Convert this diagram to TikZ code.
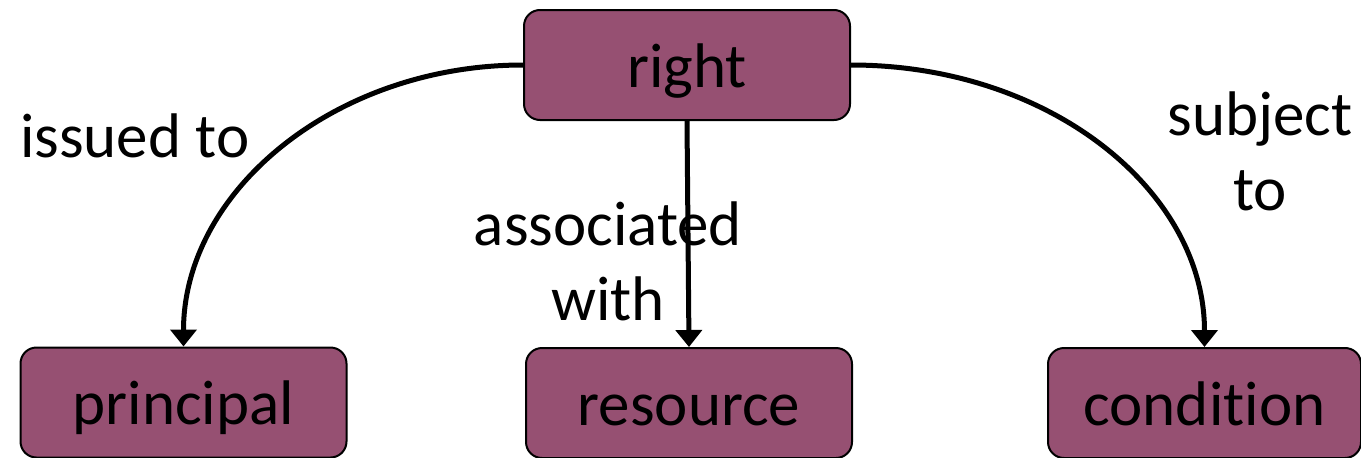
\documentclass[tikz,border=0pt]{standalone}
\usepackage{fontspec}
\setmainfont{Carlito}[Ligatures={CommonOff,ContextualOff}]
\usetikzlibrary{arrows.meta}
\definecolor{boxfill}{RGB}{150,80,114}
\tikzset{
  box/.style={draw=black, line width=2pt, fill=boxfill, rounded corners=16pt,
    minimum width=326pt, minimum height=110pt, inner sep=0pt,
    text height=44pt, text depth=0pt, font=\fontsize{63}{75}\selectfont},
  lbl/.style={inner sep=0pt, font=\fontsize{63}{75}\selectfont},
  conn/.style={line width=5pt, -{Triangle[width=26pt,length=17pt]}}
}
\begin{document}
\begin{tikzpicture}[x=1pt,y=-1pt]
\useasboundingbox (0,0) rectangle (1361,458);
\node[box] (right) at (687,65) {right};
\node[box] (principal) at (183.5,402.5) {principal};
\node[box] (resource) at (689,403) {resource};
\node[box, minimum width=313pt] (condition) at (1204.5,403) {condition};
\draw[conn] (right.west) .. controls +(-187,0) and +(0,-156) .. (principal.north);
\draw[conn] (right.south) -- (resource.north);
\draw[conn] (right.east) .. controls +(199,0) and +(0,-156) .. (condition.north);
\node[lbl, anchor=base west] (l1) at (20,157) {issued to};
\node[lbl, anchor=base] (l2a) at (608,245) {associated};
\node[lbl, anchor=base] (l2b) at (608,320) {with};
\node[lbl, anchor=base] (l3a) at (1260,135) {subject};
\node[lbl, anchor=base] (l3b) at (1260,210) {to};
\end{tikzpicture}
\end{document}
